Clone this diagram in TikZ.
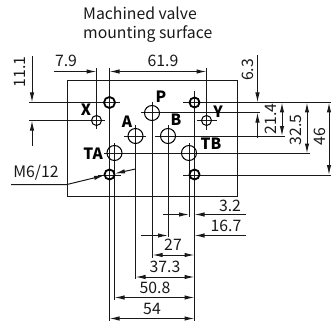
\documentclass[tikz,border=0pt]{standalone}
\usepackage{fontspec}
\setmainfont{Noto Sans CJK SC}
\usetikzlibrary{arrows.meta}
\tikzset{
  line/.style={draw=black!90,line width=1pt},
  ar/.style={-{Latex[length=10pt,width=4.4pt]}},
  both/.style={{Latex[length=10pt,width=4.4pt]}-{Latex[length=10pt,width=4.4pt]}},
  hole/.style={draw=black,line width=1pt,fill=none},
  bolt/.style={draw=black,line width=1.8pt,fill=none},
  dimtext/.style={font=\fontsize{15.8}{16}\selectfont,inner sep=0pt,text=black!90},
  porttext/.style={font=\fontsize{15.5}{15}\selectfont\bfseries,inner sep=0pt,text=black},
}
\begin{document}
\begin{tikzpicture}[x=1pt,y=-1pt]
\useasboundingbox (0,0) rectangle (335,321);
% named points
\coordinate (M1) at (109.5,102.5);
\coordinate (M2) at (194.5,102.5);
\coordinate (M3) at (109.5,174.5);
\coordinate (M4) at (194.5,174.5);
\coordinate (X) at (96.5,120.5);
\coordinate (Y) at (206.5,120.5);
\coordinate (P) at (152,113);
\coordinate (A) at (135.5,136);
\coordinate (B) at (168,136);
\coordinate (TA) at (114.5,153);
\coordinate (TB) at (189,153);
% body
\draw[line] (67,81) rectangle (237,196);
% horizontal centre/extension lines
\draw[line] (29,102.5) -- (120,102.5);
\draw[line] (183,102.5) -- (331,102.5);
\draw[line] (29,120.5) -- (105,120.5);
\draw[line] (197,120.5) -- (217,120.5);
\draw[line] (141,112.5) -- (260,112.5);
\draw[line] (124,136) -- (146,136);
\draw[line] (155,136) -- (285,136);
\draw[line] (104,153.5) -- (310,153.5);
\draw[line] (98,175) -- (121,175);
\draw[line] (183,175) -- (331,175);
% vertical centre/extension lines
\draw[line] (96.5,68) -- (96.5,129);
\draw[line] (109.5,68) -- (109.5,321);
\draw[line] (114.5,143) -- (114.5,300);
\draw[line] (135.5,125) -- (135.5,279);
\draw[line] (152.5,102) -- (152.5,258);
\draw[line] (168,125) -- (168,237);
\draw[line] (189,143) -- (189,217);
\draw[line] (194.5,91) -- (194.5,321);
\draw[line] (206.5,68) -- (206.5,130);
% holes
\draw[bolt] (M1) circle (5.5);
\draw[bolt] (M2) circle (5);
\draw[bolt] (M3) circle (5);
\draw[bolt] (M4) circle (5);
\draw[hole] (X) circle (5);
\draw[hole] (Y) circle (5);
\draw[hole] (P) circle (7.5);
\draw[hole] (A) circle (7.5);
\draw[hole] (B) circle (7.5);
\draw[hole] (TA) circle (7.5);
\draw[hole] (TB) circle (7.5);
% top dimensions
\draw[line,ar] (54,71.5) -- (96.5,71.5);
\draw[line,both] (109.5,71.5) -- (206.5,71.5);
% left dimension
\draw[line,ar] (32,56) -- (32,102.5);
\draw[line,ar] (32,146) -- (32,120.5);
% right dimensions
\draw[line,ar] (257.5,55) -- (257.5,102.5);
\draw[line,ar] (257.5,138) -- (257.5,112.5);
\draw[line,both] (282,102.5) -- (282,136);
\draw[line,both] (307,102.5) -- (307,153.5);
\draw[line,both] (329,102.5) -- (329,175);
% bottom dimensions
\draw[line,ar] (163,214.5) -- (189,214.5);
\draw[line,ar] (246,214.5) -- (194.5,214.5);
\draw[line,ar] (141,235.5) -- (168,235.5);
\draw[line,ar] (246,235.5) -- (194.5,235.5);
\draw[line,both] (152.5,255) -- (194.5,255);
\draw[line,both] (135.5,277) -- (194.5,277);
\draw[line,both] (114.5,297.5) -- (194.5,297.5);
\draw[line,both] (109.5,318.5) -- (194.5,318.5);
% thread leader
\draw[line,ar] (11,184.5) -- (67,184.5) -- (104,175.5);
\draw[line,ar] (135.5,169) -- (115,173.5);
% texts
\node[dimtext,align=left,anchor=north west] (title) at (83,6.5) {Machined valve\\[3pt]mounting surface};
\node[dimtext] (t79) at (66,61) {7.9};
\node[dimtext] (t619) at (163,61) {61.9};
\node[dimtext,rotate=90] (t111) at (20,72) {11.1};
\node[dimtext,rotate=90] (t63) at (248,70) {6.3};
\node[dimtext,rotate=90] (t214) at (271,119) {21.4};
\node[dimtext,rotate=90] (t325) at (296,130) {32.5};
\node[dimtext,rotate=90] (t46) at (320,137) {46};
\node[dimtext] (t32) at (230,205.5) {3.2};
\node[dimtext] (t167) at (226,225.5) {16.7};
\node[dimtext] (t27) at (173,245) {27};
\node[dimtext] (t373) at (165,267) {37.3};
\node[dimtext] (t508) at (155,288) {50.8};
\node[dimtext] (t54) at (152,309) {54};
\node[dimtext] (tm) at (36,173) {M6/12};
\node[porttext] (lX) at (86,110) {X};
\node[porttext] (lP) at (161,97) {P};
\node[porttext] (lA) at (127,122) {A};
\node[porttext] (lB) at (176,120) {B};
\node[porttext] (lY) at (218,112) {Y};
\node[porttext] (lTA) at (93,154) {TA};
\node[porttext] (lTB) at (211,144) {TB};
\end{tikzpicture}
\end{document}
